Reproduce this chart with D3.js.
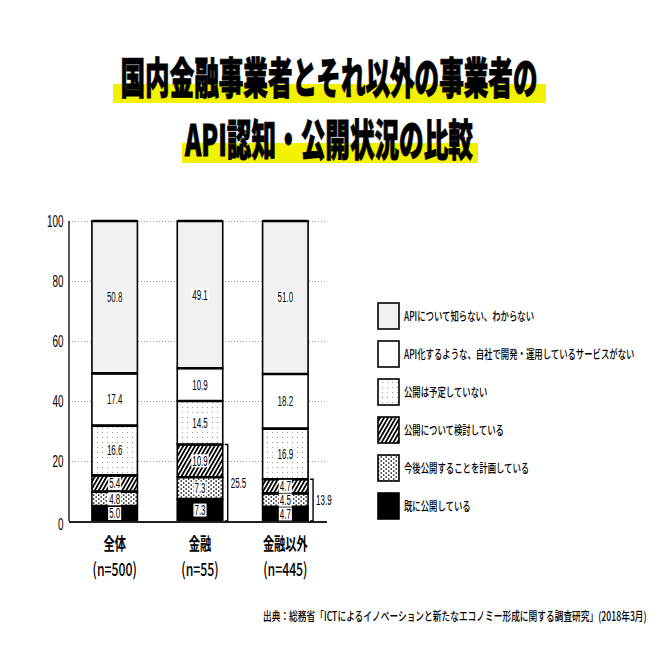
<!DOCTYPE html>
<html><head><meta charset="utf-8">
<script src="https://cdn.jsdelivr.net/npm/d3@7"></script>
<style>body{margin:0;background:#fff}</style>
</head><body><svg id="c" width="660" height="660"></svg>
<script>
// ---- data ----
const categories = ["全体", "金融", "金融以外"];
const sampleSizes = ["(n=500)", "(n=55)", "(n=445)"];
const seriesNames = [
  "既に公開している",
  "今後公開することを計画している",
  "公開について検討している",
  "公開は予定していない",
  "API化するような、自社で開発・運用しているサービスがない",
  "APIについて知らない、わからない"
];
const published   = [5.0, 7.3, 4.7];
const planning    = [4.8, 7.3, 4.5];
const considering = [5.4, 10.9, 4.7];
const notPlanned  = [16.6, 14.5, 16.9];
const noService   = [17.4, 10.9, 18.2];
const unaware     = [50.8, 49.1, 51.0];
const bracketTotals = [null, 25.5, 13.9];
const yTicks = [0, 20, 40, 60, 80, 100];
const titleLines = ["国内金融事業者とそれ以外の事業者の", "API認知・公開状況の比較"];
const sourceNote = "出典：総務省「ICTによるイノベーションと新たなエコノミー形成に関する調査研究」(2018年3月)";

// ---- build table ----
const seriesValues = [published, planning, considering, notPlanned, noService, unaware];
const keys = seriesNames;
const table = categories.map((c, i) => {
  const row = {cat: c};
  keys.forEach((k, j) => row[k] = seriesValues[j][i]);
  return row;
});
const stacked = d3.stack().keys(keys)(table);

const JP = "'Noto Sans CJK JP','Noto Sans',sans-serif";
const NUM = "'Liberation Sans','Noto Sans',sans-serif";

const svg = d3.select("#c");
const defs = svg.append("defs");

// patterns
const sparse = defs.append("pattern").attr("id","sparse").attr("patternUnits","userSpaceOnUse")
  .attr("width",5).attr("height",5);
sparse.append("rect").attr("width",5).attr("height",5).attr("fill","#fff");
sparse.append("circle").attr("cx",2.5).attr("cy",2.5).attr("r",0.6).attr("fill","#888");

const dense = defs.append("pattern").attr("id","dense").attr("patternUnits","userSpaceOnUse")
  .attr("width",5).attr("height",4);
dense.append("rect").attr("width",5).attr("height",4).attr("fill","#fff");
dense.append("circle").attr("cx",1.2).attr("cy",1).attr("r",0.85).attr("fill","#000");
dense.append("circle").attr("cx",3.7).attr("cy",3).attr("r",0.85).attr("fill","#000");

const hatch = defs.append("pattern").attr("id","hatch").attr("patternUnits","userSpaceOnUse")
  .attr("width",3.4).attr("height",3.4).attr("patternTransform","rotate(30)");
hatch.append("rect").attr("width",3.4).attr("height",3.4).attr("fill","#fff");
hatch.append("line").attr("x1",0.9).attr("y1",0).attr("x2",0.9).attr("y2",3.4)
  .attr("stroke","#000").attr("stroke-width",1.8);

const fills = ["#000", "url(#dense)", "url(#hatch)", "url(#sparse)", "#fff", "#f1f1f1"];

function sText(parent, x, y, txt, size, sx, anchor, weight, family, color) {
  const g = parent.append("g").attr("transform", `translate(${x},${y})`);
  const t = g.append("text").attr("transform", `scale(${sx},1)`)
    .attr("text-anchor", anchor).attr("dominant-baseline", "central")
    .attr("font-size", size).attr("font-weight", weight || 400)
    .attr("font-family", family || JP).attr("fill", color || "#000").text(txt);
  return {g, t};
}
// text fitted to a target width by horizontal scaling
function fitText(parent, x, y, txt, size, width, anchor, weight, extra) {
  const g = parent.append("g").attr("transform", `translate(${x},${y})`);
  const t = g.append("text").attr("text-anchor", anchor).attr("dominant-baseline", "central")
    .attr("font-size", size).attr("font-weight", weight).attr("font-family", JP).text(txt);
  if (extra) extra(t);
  const w = t.node().getComputedTextLength();
  t.attr("transform", `scale(${width / w},1)`);
  return t;
}

// ---- title ----
const bands = [[113, 84, 433, 19], [182, 143, 296, 20]];
bands.forEach(b => svg.append("rect").attr("x", b[0]).attr("y", b[1]).attr("width", b[2]).attr("height", b[3]).attr("fill", "#f2f200"));
const titleY = [74.5, 136.5];
const titleLen = [417, 288];
titleLines.forEach((l, i) => {
  fitText(svg, 329, titleY[i], l, 43, titleLen[i], "middle", 900,
    t => t.attr("stroke", "#000").attr("stroke-width", 0.9));
});

// ---- scales ----
const x = d3.scaleBand().domain(categories).range([72, 328]).paddingInner(0.467).paddingOuter(0.2335);
const y = d3.scaleLinear().domain([0, 100]).range([521, 221]);
const axisX0 = 69, axisX1 = 327;

// grid
const gridAxis = d3.axisLeft(y).tickValues(yTicks.filter(d => d > 0)).tickSize(-(axisX1 - axisX0)).tickFormat("");
const gg = svg.append("g").attr("transform", `translate(${axisX0},0)`).call(gridAxis);
gg.select(".domain").remove();
gg.selectAll(".tick line").attr("stroke", "#999").attr("stroke-dasharray", "1,2").attr("stroke-width", 1);

// tick labels
yTicks.forEach(v => sText(svg, 63.5, y(v) + (v === 0 ? 3.5 : 1), String(v), 16.5, 0.6, "end", 400, NUM));

// bars
const layers = svg.append("g").selectAll("g").data(stacked).join("g").attr("fill", (d, i) => fills[i]);
layers.selectAll("rect").data(d => d).join("rect")
  .attr("x", d => x(d.data.cat)).attr("width", x.bandwidth())
  .attr("y", d => y(d[1])).attr("height", d => y(d[0]) - y(d[1]))
  .attr("stroke", "#000").attr("stroke-width", 1.6);
// thicker separators at segment tops
stacked.forEach(s => s.forEach(d => {
  svg.append("line").attr("x1", x(d.data.cat)).attr("x2", x(d.data.cat) + x.bandwidth())
    .attr("y1", y(d[1])).attr("y2", y(d[1])).attr("stroke", "#000").attr("stroke-width", 2.6);
}));

// value labels
stacked.forEach((s, si) => s.forEach(d => {
  const cx = x(d.data.cat) + x.bandwidth() / 2;
  const cy = (y(d[0]) + y(d[1])) / 2;
  const txt = d.data[s.key].toFixed(1);
  const o = sText(svg, cx, cy, txt, 14, 0.57, "middle", 400, NUM);
  const bb = o.t.node().getBBox();
  const w = bb.width * 0.57 + 2;
  o.g.insert("rect", "text").attr("x", -w / 2).attr("y", -6.5).attr("width", w).attr("height", 13).attr("fill", "#fff");
}));

// axes lines
svg.append("line").attr("x1", axisX0).attr("x2", axisX0).attr("y1", y(100)).attr("y2", y(0)).attr("stroke", "#222").attr("stroke-width", 1.5);
svg.append("line").attr("x1", axisX0).attr("x2", axisX1).attr("y1", y(0) + 1).attr("y2", y(0) + 1).attr("stroke", "#222").attr("stroke-width", 2);

// brackets
bracketTotals.forEach((t, i) => {
  if (t == null) return;
  const bx = x(categories[i]) + x.bandwidth() + 5;
  const p = d3.path();
  p.moveTo(bx - 3, y(t)); p.lineTo(bx, y(t)); p.lineTo(bx, y(0)); p.lineTo(bx - 3, y(0));
  svg.append("path").attr("d", p.toString()).attr("fill", "none").attr("stroke", "#000").attr("stroke-width", 1.4);
  sText(svg, bx + 3, (y(t) + y(0)) / 2, t.toFixed(1), 14, 0.57, "start", 400, NUM);
});

// category labels
categories.forEach((c, i) => {
  const cx = x(c) + x.bandwidth() / 2;
  sText(svg, cx, 542, c, 17, 0.66, "middle", 700, JP);
  sText(svg, cx, 568, sampleSizes[i], 18, 0.68, "middle", 500, JP);
});

// legend
const legendOrder = [5, 4, 3, 2, 1, 0];
legendOrder.forEach((si, k) => {
  const cy = 316 + k * 38;
  svg.append("rect").attr("x", 378).attr("y", cy - 13).attr("width", 21).attr("height", 26)
    .attr("fill", fills[si]).attr("stroke", "#000").attr("stroke-width", 1.6);
  sText(svg, 404, cy, seriesNames[si], 12.5, 0.67, "start", 500, JP);
});

// source note
fitText(svg, 263, 616, sourceNote, 12.5, 384, "start", 500);
</script>
</body></html>
